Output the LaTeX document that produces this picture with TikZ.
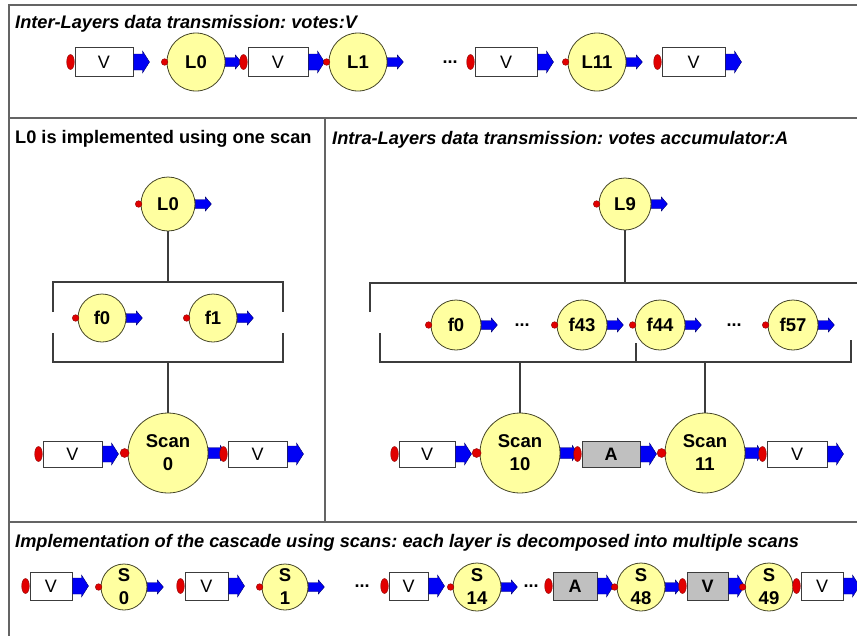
\documentclass[tikz,border=0pt]{standalone}
\usepackage{fontspec}
\setmainfont{Liberation Sans}
\frenchspacing
\definecolor{unitfill}{RGB}{255,255,160}
\definecolor{unitline}{RGB}{70,70,40}
\definecolor{redf}{RGB}{225,0,0}
\definecolor{redl}{RGB}{140,0,0}
\definecolor{bluef}{RGB}{0,0,245}
\definecolor{bluel}{RGB}{0,0,110}
\definecolor{grayf}{RGB}{192,192,192}
\definecolor{linec}{RGB}{60,60,60}
\definecolor{framec}{RGB}{100,100,100}
\tikzset{
 unitc/.style={circle, draw=unitline, fill=unitfill, line width=0.8pt, inner sep=0pt, align=center, font=\fontsize{18.5}{23}\selectfont\bfseries},
 reddot/.style={fill=redf, draw=redl, line width=0.4pt},
 bluearr/.style={fill=bluef, draw=bluel, line width=0.4pt},
 databoxw/.style={rectangle, draw=linec, fill=white, line width=1pt, inner sep=0pt, font=\fontsize{18}{20}\selectfont},
 databoxg/.style={databoxw, fill=grayf, font=\fontsize{18}{20}\selectfont\bfseries},
 conn/.style={draw=linec, line width=1.1pt},
 frameline/.style={draw=framec, line width=1.8pt},
 titletext/.style={anchor=base west, inner sep=0pt, font=\fontsize{18.2}{20}\selectfont\bfseries\itshape},
 dotsn/.style={inner sep=0pt, font=\fontsize{18}{20}\selectfont\bfseries},
}
\newcommand{\barrow}[5]{\filldraw[bluearr] (#1) ++(0,-#2) -- ++(#3,0) -- ++(0,{#2-#4}) -- ++(#5,#4) -- ++(-#5,#4) -- ++(0,{#2-#4}) -- ++(-#3,0) -- cycle;}
\newcommand{\unitnode}[5]{%
 \node[unitc, minimum size={2*#4pt}] (#1) at (#2,#3) {#5};
 \filldraw[reddot] ([xshift=-2pt]#1.west) circle[radius=3.3pt];}
\newcommand{\scannode}[5]{%
 \node[unitc, minimum size={2*#4pt}] (#1) at (#2,#3) {#5};
 \filldraw[reddot] ([xshift=-3pt]#1.west) circle[radius=4.5pt];
 \barrow{#1.east}{5.5}{12}{7.5}{5}}
\newcommand{\dbox}[7]{%
 \node[#2, minimum width=#5pt, minimum height=#6pt] (#1) at (#3,#4) {#7};
 \filldraw[reddot] ([xshift=-4pt]#1.west) ellipse[x radius=3.8pt, y radius=7.5pt];
 \barrow{#1.east}{8}{9}{11}{7}}
\newcommand{\uarrow}[1]{\barrow{#1.east}{4.5}{10}{7}{6}}
\begin{document}
\begin{tikzpicture}[x=1pt,y=-1pt]
\useasboundingbox (0,0) rectangle (857,635);
% frame
\draw[frameline] (857,5) -- (9,5) -- (9,636);
\draw[frameline] (9,118) -- (857,118);
\draw[frameline] (325,118) -- (325,522);
\draw[frameline] (9,522) -- (857,522);
% titles
\node[titletext] (t1) at (15,28) {Inter-Layers data transmission: votes:V};
\node[titletext, font=\fontsize{18.2}{20}\selectfont\bfseries] (t2) at (15,143) {L0 is implemented using one scan};
\node[titletext] (t3) at (332,144) {Intra-Layers data transmission: votes accumulator:A};
\node[titletext] (t4) at (15,547) {Implementation of the cascade using scans: each layer is decomposed into multiple scans};
% ---- row 1
\dbox{va}{databoxw}{104}{62}{58}{29}{V}
\unitnode{la}{196}{62}{29}{L0}\uarrow{la}
\dbox{vb}{databoxw}{278}{62}{60}{29}{V}
\unitnode{lb}{358}{62}{29}{L1}\uarrow{lb}
\node[dotsn] (d1) at (450,62) {...};
\dbox{vc}{databoxw}{506}{62}{62}{29}{V}
\unitnode{lc}{597}{62}{29}{L11}\uarrow{lc}
\dbox{vd}{databoxw}{693.5}{62}{63}{29}{V}
% ---- left middle panel
\coordinate (blt) at (53,282);
\coordinate (blb) at (53,362);
\draw[conn] (53,312) -- (blt) -- (283,282) -- (283,312);
\draw[conn] (53,333) -- (blb) -- (283,362) -- (283,333);
\unitnode{lz}{168}{204}{27}{L0}\uarrow{lz}
\unitnode{fa}{102}{318}{24}{f0}\uarrow{fa}
\unitnode{fb}{213}{318}{24}{f1}\uarrow{fb}
\dbox{vl}{databoxw}{72.5}{454}{59}{26}{V}
\scannode{sc0}{168}{453}{40}{Scan\\0}
\dbox{vr}{databoxw}{257.5}{454}{59}{26}{V}
\draw[conn] (lz.south) -- (lz.south |- blt);
\draw[conn] (sc0.north) -- (sc0.north |- blb);
% ---- right middle panel
\coordinate (brt) at (370,283);
\coordinate (brb) at (380,362);
\draw[conn] (370,312) -- (brt) -- (857,283);
\draw[conn] (380,333) -- (brb) -- (851,362) -- (851,340);
\draw[conn] (636,343) -- (636,362);
\unitnode{l9}{625}{204}{26}{L9}\uarrow{l9}
\unitnode{fc}{456}{325}{25}{f0}\uarrow{fc}
\node[dotsn] (d2) at (522,325) {...};
\unitnode{fd}{582}{325}{25}{f43}\uarrow{fd}
\unitnode{fe}{660}{325}{25}{f44}\uarrow{fe}
\node[dotsn] (d3) at (734,325) {...};
\unitnode{ff}{793}{325}{25}{f57}\uarrow{ff}
\dbox{vx}{databoxw}{427}{454}{56}{26}{V}
\scannode{sc10}{520}{453}{40}{Scan\\10}
\dbox{ax}{databoxg}{611}{454}{58}{26}{A}
\scannode{sc11}{705}{453}{40}{Scan\\11}
\dbox{vy}{databoxw}{797}{454}{60}{26}{V}
\draw[conn] (l9.south) -- (l9.south |- brt);
\draw[conn] (sc10.north) -- (sc10.north |- brb);
\draw[conn] (sc11.north) -- (sc11.north |- brb);
% ---- bottom row
\dbox{b1}{databoxw}{51}{586}{42}{28}{V}
\unitnode{s0}{124}{587}{23}{S\\0}\uarrow{s0}
\dbox{b2}{databoxw}{206.5}{586}{43}{28}{V}
\unitnode{s1}{285}{587}{23}{S\\1}\uarrow{s1}
\node[dotsn] (d4) at (362,586) {...};
\dbox{b3}{databoxw}{408.5}{586}{39}{28}{V}
\unitnode{s14}{477}{587}{24}{S\\14}\uarrow{s14}
\node[dotsn] (d5) at (531,586) {...};
\dbox{ba}{databoxg}{575}{586}{44}{28}{A}
\unitnode{s48}{641}{587}{24}{S\\48}\uarrow{s48}
\dbox{bv}{databoxg}{707.5}{586}{41}{28}{V}
\unitnode{s49}{769}{587}{24}{S\\49}
\dbox{b6}{databoxw}{822}{586}{42}{28}{V}
\end{tikzpicture}
\end{document}
